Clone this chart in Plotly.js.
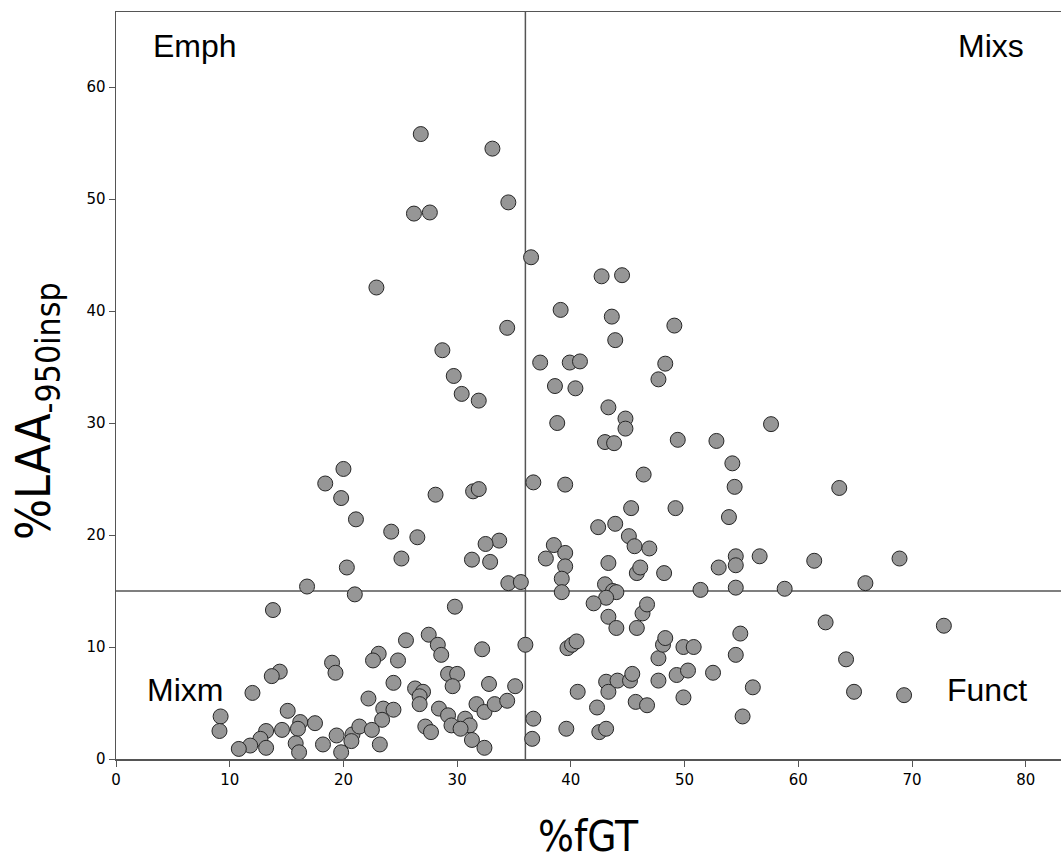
<!DOCTYPE html>
<html>
<head>
<meta charset="utf-8">
<script src="https://cdn.plot.ly/plotly-3.0.1.min.js"></script>
<style>html,body{margin:0;padding:0;background:#fff;}#chart{width:1061px;height:862px;}</style>
</head>
<body>
<div id="chart"></div>
<script>
// %fGT values
const fGT = [
  26.8,33.1,26.2,27.6,34.5,22.9,34.4,28.7,29.7,30.4,31.9,20.0,18.4,19.8,21.1,28.1,31.4,31.9,24.2,26.5,33.7,32.5,20.3,25.1,31.3,32.9,16.8,34.5,35.6,
  21.0,13.8,29.8,27.5,25.5,28.3,28.6,23.1,22.6,24.8,19.0,19.3,14.4,13.7,32.2,36.0,29.2,30.0,29.6,32.8,35.1,24.4,12.0,26.3,27.0,26.7,26.7,22.2,23.5,24.4,23.4,28.4,29.2,31.7,32.4,33.3,34.4,30.7,31.1,29.5,30.3,27.2,27.7,31.3,32.4,15.1,9.2,9.1,16.2,17.5,14.6,13.2,16.0,12.7,13.2,11.8,10.8,15.8,16.1,18.2,19.4,20.8,20.7,19.8,21.4,22.5,23.2,
  36.5,42.7,44.5,39.1,43.6,43.9,49.1,37.3,39.9,40.8,48.3,47.7,38.6,40.4,43.3,44.8,44.8,38.8,43.0,43.8,49.4,52.8,57.6,54.2,54.4,63.6,46.4,45.3,49.2,36.7,39.5,53.9,43.9,42.4,45.1,45.6,46.9,38.5,39.5,39.5,39.2,37.8,43.3,45.8,46.1,48.2,53.0,54.5,54.5,56.6,61.4,68.9,54.5,58.8,65.9,51.4,43.0,43.7,
  39.2,44.0,43.1,42.0,43.3,44.0,45.8,46.3,46.7,62.4,72.8,54.9,54.5,64.2,39.7,40.1,40.5,47.7,48.1,48.3,49.9,50.8,56.0,64.9,69.3,55.1,36.7,36.6,39.6,42.5,43.1,40.6,42.3,43.1,43.3,44.1,45.2,45.4,45.7,46.7,47.7,49.3,50.3,49.9,52.5
];
// %LAA-950insp values
const LAA = [
  55.8,54.5,48.7,48.8,49.7,42.1,38.5,36.5,34.2,32.6,32.0,25.9,24.6,23.3,21.4,23.6,23.9,24.1,20.3,19.8,19.5,19.2,17.1,17.9,17.8,17.6,15.4,15.7,15.8,
  14.7,13.3,13.6,11.1,10.6,10.2,9.3,9.4,8.8,8.8,8.6,7.7,7.8,7.4,9.8,10.2,7.6,7.6,6.5,6.7,6.5,6.8,5.9,6.3,6.0,5.6,4.9,5.4,4.5,4.4,3.5,4.5,3.9,4.9,4.2,4.9,5.2,3.6,3.0,3.0,2.7,2.9,2.4,1.7,1.0,4.3,3.8,2.5,3.3,3.2,2.6,2.5,2.7,1.8,1.0,1.2,0.9,1.4,0.6,1.3,2.1,2.2,1.6,0.6,2.9,2.6,1.3,
  44.8,43.1,43.2,40.1,39.5,37.4,38.7,35.4,35.4,35.5,35.3,33.9,33.3,33.1,31.4,30.4,29.5,30.0,28.3,28.2,28.5,28.4,29.9,26.4,24.3,24.2,25.4,22.4,22.4,24.7,24.5,21.6,21.0,20.7,19.9,19.0,18.8,19.1,18.4,17.2,16.1,17.9,17.5,16.6,17.1,16.6,17.1,18.1,17.3,18.1,17.7,17.9,15.3,15.2,15.7,15.1,15.6,15.0,
  14.9,14.9,14.4,13.9,12.7,11.7,11.7,13.0,13.8,12.2,11.9,11.2,9.3,8.9,9.9,10.2,10.5,9.0,10.2,10.8,10.0,10.0,6.4,6.0,5.7,3.8,3.6,1.8,2.7,2.4,2.7,6.0,4.6,6.9,6.0,7.0,7.0,7.6,5.1,4.8,7.0,7.5,7.9,5.5,7.7
];
const xTicks = [0,10,20,30,40,50,60,70,80];
const yTicks = [0,10,20,30,40,50,60];
const cutX = 36;
const cutY = 15;
const quadrantLabels = ['Emph','Mixs','Mixm','Funct'];
const xTitle = '%fGT';
const yTitleMain = '%LAA';
const yTitleSub = '-950insp';

const lineCol = '#555555';
const titleFont = '"Liberation Sans Narrow", "DejaVu Sans Condensed", "Liberation Sans", sans-serif';
const tickFont = {size: 15, family: '"DejaVu Sans", Verdana, sans-serif', color: '#000'};

const trace = {
  type: 'scatter', mode: 'markers', x: fGT, y: LAA, cliponaxis: false,
  marker: {size: 15, color: '#969696', line: {color: '#262626', width: 1}},
  hoverinfo: 'x+y'
};

const layout = {
  width: 1061, height: 862,
  margin: {l: 116, r: 0, t: 12, b: 103, pad: 0},
  paper_bgcolor: '#ffffff', plot_bgcolor: '#ffffff',
  showlegend: false,
  font: {family: '"DejaVu Sans", Verdana, sans-serif', color: '#000'},
  xaxis: {
    range: [0, 83.1], tickmode: 'array', tickvals: xTicks, ticktext: xTicks.map(String),
    ticks: 'outside', ticklen: 6, tickwidth: 1, tickcolor: lineCol,
    showline: true, linecolor: lineCol, linewidth: 1.5, mirror: true,
    showgrid: false, zeroline: false, tickfont: tickFont
  },
  yaxis: {
    range: [0, 66.7], tickmode: 'array', tickvals: yTicks, ticktext: yTicks.map(String),
    ticks: 'outside', ticklen: 6, tickwidth: 1, tickcolor: lineCol,
    showline: true, linecolor: lineCol, linewidth: 1.5, mirror: false,
    showgrid: false, zeroline: false, tickfont: tickFont
  },
  shapes: [
    {type: 'line', xref: 'x', yref: 'paper', x0: cutX, x1: cutX, y0: 0, y1: 1, line: {color: lineCol, width: 1.5}, layer: 'below'},
    {type: 'line', xref: 'paper', yref: 'y', x0: 0, x1: 1, y0: cutY, y1: cutY, line: {color: lineCol, width: 1.5}, layer: 'below'}
  ],
  annotations: [
    {text: quadrantLabels[0], xref: 'paper', yref: 'paper', x: 35/945, y: (759-46)/747, xanchor: 'left', yanchor: 'middle', showarrow: false, font: {size: 32, family: '"Liberation Sans", Arial, sans-serif'}},
    {text: quadrantLabels[1], xref: 'paper', yref: 'paper', x: 910/945, y: (759-46)/747, xanchor: 'right', yanchor: 'middle', showarrow: false, font: {size: 32, family: '"Liberation Sans", Arial, sans-serif'}},
    {text: quadrantLabels[2], xref: 'paper', yref: 'paper', x: 29/945, y: (759-690)/747, xanchor: 'left', yanchor: 'middle', showarrow: false, font: {size: 32, family: '"Liberation Sans", Arial, sans-serif'}},
    {text: quadrantLabels[3], xref: 'paper', yref: 'paper', x: 913/945, y: (759-690)/747, xanchor: 'right', yanchor: 'middle', showarrow: false, font: {size: 32, family: '"Liberation Sans", Arial, sans-serif'}},
    {text: xTitle, xref: 'paper', yref: 'paper', x: (588-116)/945, y: (759-836)/747, xanchor: 'center', yanchor: 'middle', showarrow: false, font: {size: 42, family: titleFont}},
    {text: yTitleMain + '<sub>' + yTitleSub + '</sub>', xref: 'paper', yref: 'paper', x: (36-116)/945, y: (759-411)/747, xanchor: 'center', yanchor: 'middle', textangle: -90, showarrow: false, font: {size: 48, family: titleFont}}
  ]
};

Plotly.newPlot('chart', [trace], layout, {displayModeBar: false, staticPlot: true});
</script>
</body>
</html>
